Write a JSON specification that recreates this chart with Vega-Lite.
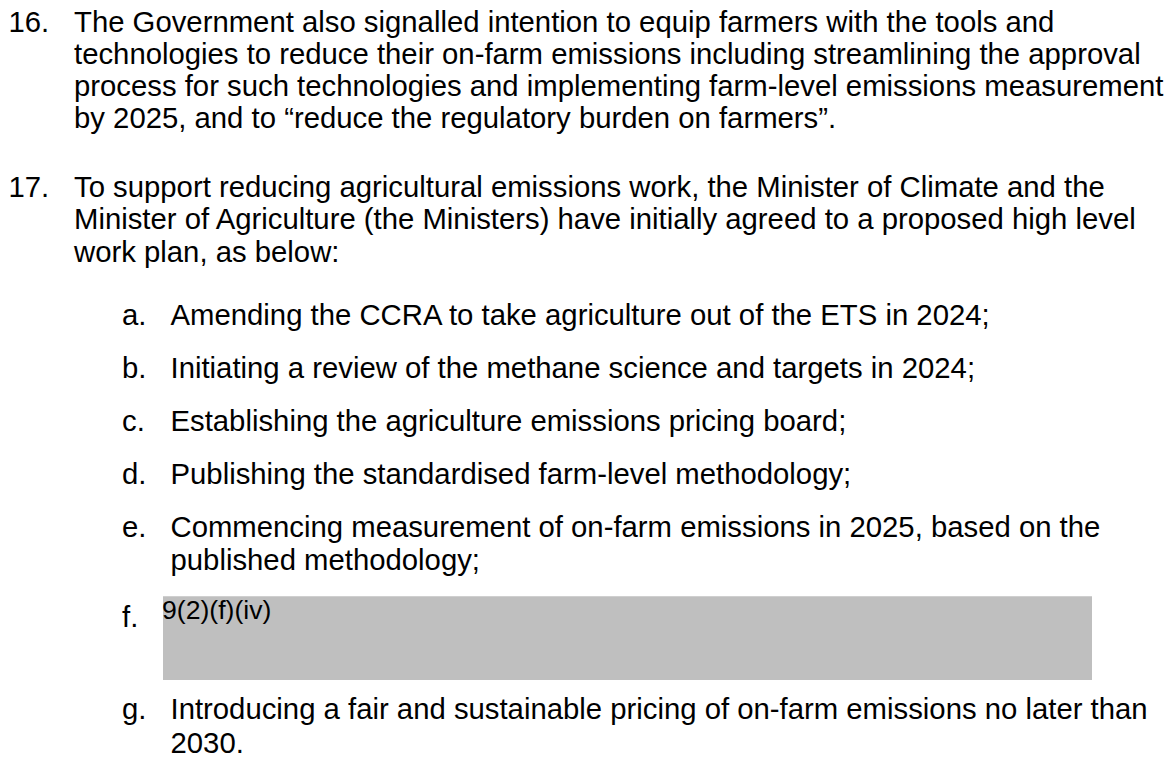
{
  "$schema": "https://vega.github.io/schema/vega-lite/v6.json",
  "width": 1175,
  "height": 760,
  "autosize": {"type": "fit", "contains": "padding"},
  "padding": 0,
  "background": "#ffffff",
  "config": {"view": {"stroke": null}},
  "layer": [
    {
      "data": {"values": [{"left": 163, "right": 1092, "top": 597, "bottom": 681}]},
      "mark": {"type": "rect", "color": "#bfbfbf"},
      "encoding": {
        "x": {"field": "left", "type": "quantitative", "scale": {"domain": [0, 1175], "nice": false, "zero": false}, "axis": null},
        "x2": {"field": "right"},
        "y": {"field": "top", "type": "quantitative", "scale": {"domain": [0, 760], "nice": false, "zero": false, "reverse": true}, "axis": null},
        "y2": {"field": "bottom"}
      }
    },
    {
      "data": {"values": [
        {"col": 8.5, "row": 32, "t": "16."},
        {"col": 74, "row": 32, "t": "The Government also signalled intention to equip farmers with the tools and"},
        {"col": 74, "row": 64, "t": "technologies to reduce their on-farm emissions including streamlining the approval"},
        {"col": 74, "row": 96, "t": "process for such technologies and implementing farm-level emissions measurement"},
        {"col": 74, "row": 128, "t": "by 2025, and to “reduce the regulatory burden on farmers”."},
        {"col": 8.5, "row": 197, "t": "17."},
        {"col": 74, "row": 197, "t": "To support reducing agricultural emissions work, the Minister of Climate and the"},
        {"col": 74, "row": 229.5, "t": "Minister of Agriculture (the Ministers) have initially agreed to a proposed high level"},
        {"col": 74, "row": 262, "t": "work plan, as below:"},
        {"col": 122, "row": 325, "t": "a."},
        {"col": 170.5, "row": 325, "t": "Amending the CCRA to take agriculture out of the ETS in 2024;"},
        {"col": 122, "row": 378, "t": "b."},
        {"col": 170.5, "row": 378, "t": "Initiating a review of the methane science and targets in 2024;"},
        {"col": 122, "row": 432, "t": "c."},
        {"col": 170.5, "row": 432, "t": "Establishing the agriculture emissions pricing board;"},
        {"col": 122, "row": 484.5, "t": "d."},
        {"col": 170.5, "row": 484.5, "t": "Publishing the standardised farm-level methodology;"},
        {"col": 122, "row": 538, "t": "e."},
        {"col": 170.5, "row": 538, "t": "Commencing measurement of on-farm emissions in 2025, based on the"},
        {"col": 170.5, "row": 571, "t": "published methodology;"},
        {"col": 122, "row": 628, "t": "f."},
        {"col": 122, "row": 720, "t": "g."},
        {"col": 170.5, "row": 720, "t": "Introducing a fair and sustainable pricing of on-farm emissions no later than"},
        {"col": 170.5, "row": 754, "t": "2030."}
      ]},
      "mark": {"type": "text", "align": "left", "baseline": "alphabetic", "font": "Liberation Sans", "fontSize": 29.3, "color": "#000000"},
      "encoding": {
        "x": {"field": "col", "type": "quantitative", "scale": {"domain": [0, 1175], "nice": false, "zero": false}, "axis": null},
        "y": {"field": "row", "type": "quantitative", "scale": {"domain": [0, 760], "nice": false, "zero": false, "reverse": true}, "axis": null},
        "text": {"field": "t", "type": "nominal"}
      }
    },
    {
      "data": {"values": [{"col": 162, "row": 620, "t": "9(2)(f)(iv)"}]},
      "mark": {"type": "text", "align": "left", "baseline": "alphabetic", "font": "Liberation Sans", "fontSize": 26.6, "color": "#000000"},
      "encoding": {
        "x": {"field": "col", "type": "quantitative", "scale": {"domain": [0, 1175], "nice": false, "zero": false}, "axis": null},
        "y": {"field": "row", "type": "quantitative", "scale": {"domain": [0, 760], "nice": false, "zero": false, "reverse": true}, "axis": null},
        "text": {"field": "t", "type": "nominal"}
      }
    }
  ]
}
